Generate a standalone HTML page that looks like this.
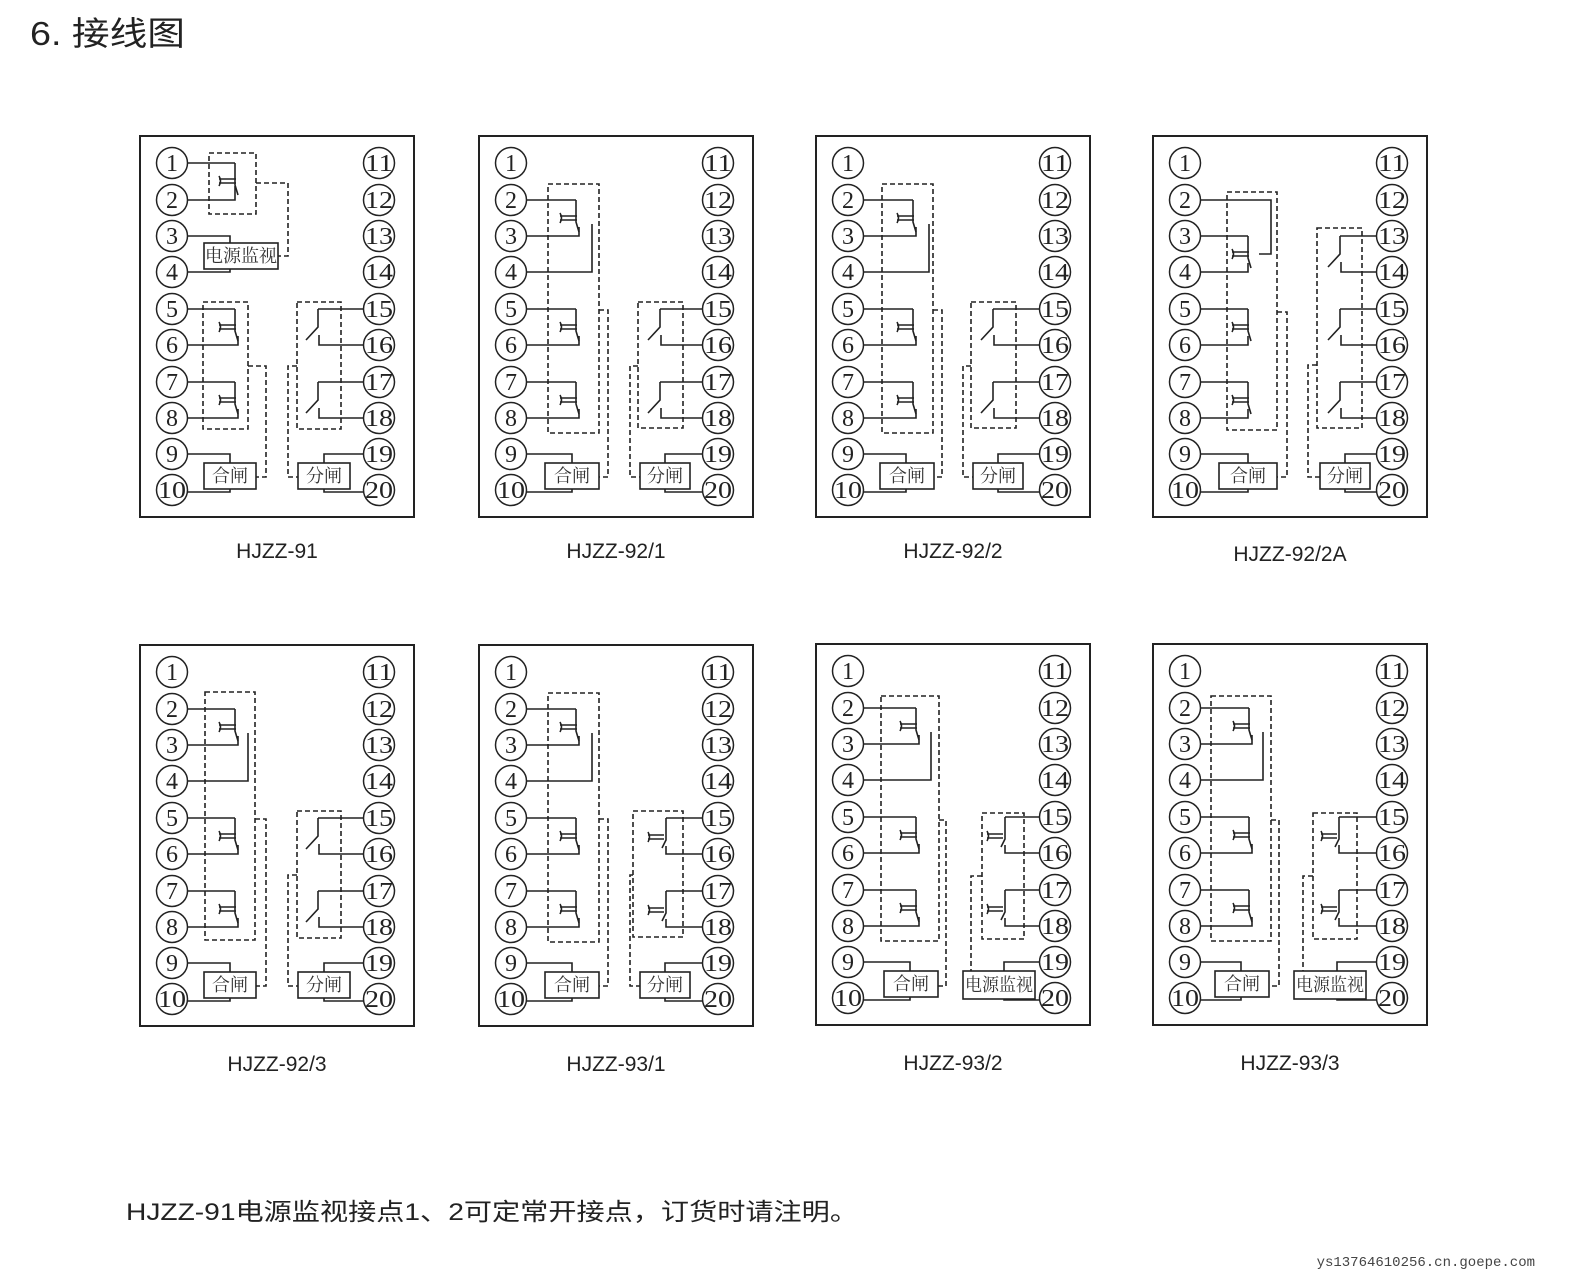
<!DOCTYPE html>
<html><head><meta charset="utf-8"><style>
html,body{margin:0;padding:0;background:#fff;}
svg{display:block}
.f{fill:none;stroke:#222;stroke-width:2}
.c{fill:#fff;stroke:#222;stroke-width:1.5}
.n{font-family:"Liberation Serif","Noto Serif CJK SC",serif;font-size:24px;fill:#222;text-anchor:middle}
.s{fill:none;stroke:#222;stroke-width:1.6}
.d{fill:none;stroke:#222;stroke-width:1.6;stroke-dasharray:5,3}
.b{fill:#fff;stroke:#222;stroke-width:1.6}
.t{font-family:"Liberation Serif","Noto Serif CJK SC",serif;font-size:18px;fill:#333;text-anchor:middle}
.lab{font-family:"Liberation Sans",sans-serif;font-size:21px;fill:#222;text-anchor:middle}
</style></head><body>
<svg width="1579" height="1287" viewBox="0 0 1579 1287" xmlns="http://www.w3.org/2000/svg">
<defs>
<g id="nc"><path class="s" d="M0,0 V22 L3,32"/><path class="s" d="M-16,16 H1 M-16,20 H1 M-16,13 Q-13,18 -16,23"/></g>
<g id="no"><path class="s" d="M0,0 V18 L-12,31"/></g>
<g id="ncr"><path class="s" d="M0,0 V22 L-4,30"/><path class="s" d="M-18,17 H-2 M-18,21 H-2 M-18,14 Q-15,19 -18,24"/></g>
</defs>
<text x="30" y="45" font-family="Liberation Sans,'Noto Sans CJK SC',sans-serif" font-size="33" fill="#222" textLength="155" lengthAdjust="spacingAndGlyphs">6. 接线图</text>

<!-- ===== Panel 1 HJZZ-91 ===== -->
<g transform="translate(140,136)">
<rect class="f" x="0" y="0" width="274" height="381"/>
<rect class="d" x="69" y="17" width="47" height="61"/>
<path class="s" d="M47,27 H95 M47,64 H95 V50"/><use href="#nc" x="95" y="27"/>
<path class="d" d="M116,47 H148 V120 H138"/>
<path class="s" d="M47,100 H90 V107 M47,136 H90 V133"/>
<rect class="b" x="64" y="107" width="74" height="26"/><text class="t" x="101" y="126">电源监视</text>
<rect class="d" x="63" y="166" width="45" height="127"/>
<path class="s" d="M47,173 H95 M47,209 H98 V200 M47,246 H95 M47,282 H98 V273"/>
<use href="#nc" x="95" y="173"/><use href="#nc" x="95" y="246"/>
<path class="d" d="M108,230 H126 V341 H116"/>
<rect class="d" x="157" y="166" width="44" height="127"/>
<path class="s" d="M224,173 H178 M224,209 H179 V199 M224,246 H178 M224,282 H179 V272"/>
<use href="#no" x="178" y="173"/><use href="#no" x="178" y="246"/>
<path class="d" d="M157,230 H148 V341 H158"/>
<path class="s" d="M47,318 H90 V327 M47,356 H90 V353 M224,318 H184 V327 M224,356 H184 V353"/>
<rect class="b" x="64" y="327" width="52" height="26"/><text class="t" x="90" y="346">合闸</text>
<rect class="b" x="158" y="327" width="52" height="26"/><text class="t" x="184" y="346">分闸</text>
<g id="circ">
<circle class="c" cx="32" cy="27" r="15.5"/><circle class="c" cx="32" cy="64" r="15.5"/><circle class="c" cx="32" cy="100" r="15.5"/><circle class="c" cx="32" cy="136" r="15.5"/><circle class="c" cx="32" cy="173" r="15.5"/><circle class="c" cx="32" cy="209" r="15.5"/><circle class="c" cx="32" cy="246" r="15.5"/><circle class="c" cx="32" cy="282" r="15.5"/><circle class="c" cx="32" cy="318" r="15.5"/><circle class="c" cx="32" cy="354" r="15.5"/>
<circle class="c" cx="239" cy="27" r="15.5"/><circle class="c" cx="239" cy="64" r="15.5"/><circle class="c" cx="239" cy="100" r="15.5"/><circle class="c" cx="239" cy="136" r="15.5"/><circle class="c" cx="239" cy="173" r="15.5"/><circle class="c" cx="239" cy="209" r="15.5"/><circle class="c" cx="239" cy="246" r="15.5"/><circle class="c" cx="239" cy="282" r="15.5"/><circle class="c" cx="239" cy="318" r="15.5"/><circle class="c" cx="239" cy="354" r="15.5"/>
</g>
<g id="nums">
<text class="n" x="32" y="35">1</text><text class="n" x="32" y="72">2</text><text class="n" x="32" y="108">3</text><text class="n" x="32" y="144">4</text><text class="n" x="32" y="181">5</text><text class="n" x="32" y="217">6</text><text class="n" x="32" y="254">7</text><text class="n" x="32" y="290">8</text><text class="n" x="32" y="326">9</text><text class="n" x="32" y="362" textLength="28" lengthAdjust="spacingAndGlyphs">10</text>
<text class="n" x="239" y="35" textLength="28" lengthAdjust="spacingAndGlyphs">11</text><text class="n" x="239" y="72" textLength="28" lengthAdjust="spacingAndGlyphs">12</text><text class="n" x="239" y="108" textLength="28" lengthAdjust="spacingAndGlyphs">13</text><text class="n" x="239" y="144" textLength="28" lengthAdjust="spacingAndGlyphs">14</text><text class="n" x="239" y="181" textLength="28" lengthAdjust="spacingAndGlyphs">15</text><text class="n" x="239" y="217" textLength="28" lengthAdjust="spacingAndGlyphs">16</text><text class="n" x="239" y="254" textLength="28" lengthAdjust="spacingAndGlyphs">17</text><text class="n" x="239" y="290" textLength="28" lengthAdjust="spacingAndGlyphs">18</text><text class="n" x="239" y="326" textLength="28" lengthAdjust="spacingAndGlyphs">19</text><text class="n" x="239" y="362" textLength="28" lengthAdjust="spacingAndGlyphs">20</text>
</g>
</g>

<!-- ===== Panel 92/1 ===== -->
<g transform="translate(479,136)">
<rect class="f" x="0" y="0" width="274" height="381"/>
<rect class="d" x="69" y="48" width="51" height="249"/>
<path class="s" d="M47,64 H97 M47,100 H100 V91 M47,136 H113 V88"/><use href="#nc" x="97" y="64"/>
<path class="s" d="M47,173 H97 M47,209 H100 V200 M47,246 H97 M47,282 H100 V273"/>
<use href="#nc" x="97" y="173"/><use href="#nc" x="97" y="246"/>
<path class="d" d="M120,174 H129 V341 H120"/>
<rect class="d" x="159" y="166" width="45" height="126"/>
<path class="s" d="M224,173 H181 M224,209 H182 V199 M224,246 H181 M224,282 H182 V272"/>
<use href="#no" x="181" y="173"/><use href="#no" x="181" y="246"/>
<path class="d" d="M159,230 H151 V341 H161"/>
<path class="s" d="M47,318 H93 V327 M47,356 H93 V353 M224,318 H186 V327 M224,356 H186 V353"/>
<rect class="b" x="66" y="327" width="54" height="26"/><text class="t" x="93" y="346">合闸</text>
<rect class="b" x="161" y="327" width="50" height="26"/><text class="t" x="186" y="346">分闸</text>
<use href="#circ"/>
<text class="n" x="32" y="35">1</text><text class="n" x="32" y="72">2</text><text class="n" x="32" y="108">3</text><text class="n" x="32" y="144">4</text><text class="n" x="32" y="181">5</text><text class="n" x="32" y="217">6</text><text class="n" x="32" y="254">7</text><text class="n" x="32" y="290">8</text><text class="n" x="32" y="326">9</text><text class="n" x="32" y="362" textLength="28" lengthAdjust="spacingAndGlyphs">10</text>
<text class="n" x="239" y="35" textLength="28" lengthAdjust="spacingAndGlyphs">11</text><text class="n" x="239" y="72" textLength="28" lengthAdjust="spacingAndGlyphs">12</text><text class="n" x="239" y="108" textLength="28" lengthAdjust="spacingAndGlyphs">13</text><text class="n" x="239" y="144" textLength="28" lengthAdjust="spacingAndGlyphs">14</text><text class="n" x="239" y="181" textLength="28" lengthAdjust="spacingAndGlyphs">15</text><text class="n" x="239" y="217" textLength="28" lengthAdjust="spacingAndGlyphs">16</text><text class="n" x="239" y="254" textLength="28" lengthAdjust="spacingAndGlyphs">17</text><text class="n" x="239" y="290" textLength="28" lengthAdjust="spacingAndGlyphs">18</text><text class="n" x="239" y="326" textLength="28" lengthAdjust="spacingAndGlyphs">19</text><text class="n" x="239" y="362" textLength="28" lengthAdjust="spacingAndGlyphs">20</text>
</g>

<!-- ===== Panel 92/2 ===== -->
<g transform="translate(816,136)">
<rect class="f" x="0" y="0" width="274" height="381"/>
<rect class="d" x="66" y="48" width="51" height="249"/>
<path class="s" d="M47,64 H97 M47,100 H100 V91 M47,136 H113 V88"/><use href="#nc" x="97" y="64"/>
<path class="s" d="M47,173 H97 M47,209 H100 V200 M47,246 H97 M47,282 H100 V273"/>
<use href="#nc" x="97" y="173"/><use href="#nc" x="97" y="246"/>
<path class="d" d="M117,174 H126 V341 H118"/>
<rect class="d" x="155" y="166" width="45" height="126"/>
<path class="s" d="M224,173 H177 M224,209 H178 V199 M224,246 H177 M224,282 H178 V272"/>
<use href="#no" x="177" y="173"/><use href="#no" x="177" y="246"/>
<path class="d" d="M155,230 H147 V341 H157"/>
<path class="s" d="M47,318 H90 V327 M47,356 H90 V353 M224,318 H182 V327 M224,356 H182 V353"/>
<rect class="b" x="64" y="327" width="54" height="26"/><text class="t" x="91" y="346">合闸</text>
<rect class="b" x="157" y="327" width="50" height="26"/><text class="t" x="182" y="346">分闸</text>
<use href="#circ"/>
<text class="n" x="32" y="35">1</text><text class="n" x="32" y="72">2</text><text class="n" x="32" y="108">3</text><text class="n" x="32" y="144">4</text><text class="n" x="32" y="181">5</text><text class="n" x="32" y="217">6</text><text class="n" x="32" y="254">7</text><text class="n" x="32" y="290">8</text><text class="n" x="32" y="326">9</text><text class="n" x="32" y="362" textLength="28" lengthAdjust="spacingAndGlyphs">10</text>
<text class="n" x="239" y="35" textLength="28" lengthAdjust="spacingAndGlyphs">11</text><text class="n" x="239" y="72" textLength="28" lengthAdjust="spacingAndGlyphs">12</text><text class="n" x="239" y="108" textLength="28" lengthAdjust="spacingAndGlyphs">13</text><text class="n" x="239" y="144" textLength="28" lengthAdjust="spacingAndGlyphs">14</text><text class="n" x="239" y="181" textLength="28" lengthAdjust="spacingAndGlyphs">15</text><text class="n" x="239" y="217" textLength="28" lengthAdjust="spacingAndGlyphs">16</text><text class="n" x="239" y="254" textLength="28" lengthAdjust="spacingAndGlyphs">17</text><text class="n" x="239" y="290" textLength="28" lengthAdjust="spacingAndGlyphs">18</text><text class="n" x="239" y="326" textLength="28" lengthAdjust="spacingAndGlyphs">19</text><text class="n" x="239" y="362" textLength="28" lengthAdjust="spacingAndGlyphs">20</text>
</g>

<!-- ===== Panel 92/2A ===== -->
<g transform="translate(1153,136)">
<rect class="f" x="0" y="0" width="274" height="381"/>
<rect class="d" x="74" y="56" width="50" height="238"/>
<path class="s" d="M47,64 H118 V118 H106"/>
<path class="s" d="M47,100 H95 M47,136 H95 V127 M47,173 H95 M47,209 H95 V200 M47,246 H95 M47,282 H95 V273"/>
<use href="#nc" x="95" y="100"/><use href="#nc" x="95" y="173"/><use href="#nc" x="95" y="246"/>
<path class="d" d="M124,176 H134 V341 H124"/>
<rect class="d" x="164" y="92" width="45" height="200"/>
<path class="s" d="M224,100 H187 M224,136 H188 V126 M224,173 H187 M224,209 H188 V199 M224,246 H187 M224,282 H188 V272"/>
<use href="#no" x="187" y="100"/><use href="#no" x="187" y="173"/><use href="#no" x="187" y="246"/>
<path class="d" d="M164,229 H155 V341 H167"/>
<path class="s" d="M47,318 H95 V327 M47,356 H95 V353 M224,318 H192 V327 M224,356 H192 V353"/>
<rect class="b" x="66" y="327" width="58" height="26"/><text class="t" x="95" y="346">合闸</text>
<rect class="b" x="167" y="327" width="50" height="26"/><text class="t" x="192" y="346">分闸</text>
<use href="#circ"/>
<text class="n" x="32" y="35">1</text><text class="n" x="32" y="72">2</text><text class="n" x="32" y="108">3</text><text class="n" x="32" y="144">4</text><text class="n" x="32" y="181">5</text><text class="n" x="32" y="217">6</text><text class="n" x="32" y="254">7</text><text class="n" x="32" y="290">8</text><text class="n" x="32" y="326">9</text><text class="n" x="32" y="362" textLength="28" lengthAdjust="spacingAndGlyphs">10</text>
<text class="n" x="239" y="35" textLength="28" lengthAdjust="spacingAndGlyphs">11</text><text class="n" x="239" y="72" textLength="28" lengthAdjust="spacingAndGlyphs">12</text><text class="n" x="239" y="108" textLength="28" lengthAdjust="spacingAndGlyphs">13</text><text class="n" x="239" y="144" textLength="28" lengthAdjust="spacingAndGlyphs">14</text><text class="n" x="239" y="181" textLength="28" lengthAdjust="spacingAndGlyphs">15</text><text class="n" x="239" y="217" textLength="28" lengthAdjust="spacingAndGlyphs">16</text><text class="n" x="239" y="254" textLength="28" lengthAdjust="spacingAndGlyphs">17</text><text class="n" x="239" y="290" textLength="28" lengthAdjust="spacingAndGlyphs">18</text><text class="n" x="239" y="326" textLength="28" lengthAdjust="spacingAndGlyphs">19</text><text class="n" x="239" y="362" textLength="28" lengthAdjust="spacingAndGlyphs">20</text>
</g>

<!-- ===== Panel 92/3 ===== -->
<g transform="translate(140,645)">
<rect class="f" x="0" y="0" width="274" height="381"/>
<rect class="d" x="65" y="47" width="50" height="248"/>
<path class="s" d="M47,64 H95 M47,100 H98 V91 M47,136 H108 V88"/><use href="#nc" x="95" y="64"/>
<path class="s" d="M47,173 H95 M47,209 H98 V200 M47,246 H95 M47,282 H98 V273"/>
<use href="#nc" x="95" y="173"/><use href="#nc" x="95" y="246"/>
<path class="d" d="M115,174 H126 V341 H116"/>
<rect class="d" x="157" y="166" width="44" height="127"/>
<path class="s" d="M224,173 H178 M224,209 H179 V199 M224,246 H178 M224,282 H179 V272"/>
<use href="#no" x="178" y="173"/><use href="#no" x="178" y="246"/>
<path class="d" d="M157,230 H148 V341 H158"/>
<path class="s" d="M47,318 H90 V327 M47,356 H90 V353 M224,318 H184 V327 M224,356 H184 V353"/>
<rect class="b" x="64" y="327" width="52" height="26"/><text class="t" x="90" y="346">合闸</text>
<rect class="b" x="158" y="327" width="52" height="26"/><text class="t" x="184" y="346">分闸</text>
<use href="#circ"/>
<text class="n" x="32" y="35">1</text><text class="n" x="32" y="72">2</text><text class="n" x="32" y="108">3</text><text class="n" x="32" y="144">4</text><text class="n" x="32" y="181">5</text><text class="n" x="32" y="217">6</text><text class="n" x="32" y="254">7</text><text class="n" x="32" y="290">8</text><text class="n" x="32" y="326">9</text><text class="n" x="32" y="362" textLength="28" lengthAdjust="spacingAndGlyphs">10</text>
<text class="n" x="239" y="35" textLength="28" lengthAdjust="spacingAndGlyphs">11</text><text class="n" x="239" y="72" textLength="28" lengthAdjust="spacingAndGlyphs">12</text><text class="n" x="239" y="108" textLength="28" lengthAdjust="spacingAndGlyphs">13</text><text class="n" x="239" y="144" textLength="28" lengthAdjust="spacingAndGlyphs">14</text><text class="n" x="239" y="181" textLength="28" lengthAdjust="spacingAndGlyphs">15</text><text class="n" x="239" y="217" textLength="28" lengthAdjust="spacingAndGlyphs">16</text><text class="n" x="239" y="254" textLength="28" lengthAdjust="spacingAndGlyphs">17</text><text class="n" x="239" y="290" textLength="28" lengthAdjust="spacingAndGlyphs">18</text><text class="n" x="239" y="326" textLength="28" lengthAdjust="spacingAndGlyphs">19</text><text class="n" x="239" y="362" textLength="28" lengthAdjust="spacingAndGlyphs">20</text>
</g>

<!-- ===== Panel 93/1 ===== -->
<g transform="translate(479,645)">
<rect class="f" x="0" y="0" width="274" height="381"/>
<rect class="d" x="69" y="48" width="51" height="249"/>
<path class="s" d="M47,64 H97 M47,100 H100 V91 M47,136 H113 V88"/><use href="#nc" x="97" y="64"/>
<path class="s" d="M47,173 H97 M47,209 H100 V200 M47,246 H97 M47,282 H100 V273"/>
<use href="#nc" x="97" y="173"/><use href="#nc" x="97" y="246"/>
<path class="d" d="M120,174 H129 V341 H120"/>
<rect class="d" x="154" y="166" width="50" height="126"/>
<path class="s" d="M224,173 H187 M224,209 H187 V201 M224,246 H187 M224,282 H187 V274"/>
<use href="#ncr" x="187" y="173"/><use href="#ncr" x="187" y="246"/>
<path class="d" d="M154,230 H151 V341 H161"/>
<path class="s" d="M47,318 H93 V327 M47,356 H93 V353 M224,318 H186 V327 M224,356 H186 V353"/>
<rect class="b" x="66" y="327" width="54" height="26"/><text class="t" x="93" y="346">合闸</text>
<rect class="b" x="161" y="327" width="50" height="26"/><text class="t" x="186" y="346">分闸</text>
<use href="#circ"/>
<text class="n" x="32" y="35">1</text><text class="n" x="32" y="72">2</text><text class="n" x="32" y="108">3</text><text class="n" x="32" y="144">4</text><text class="n" x="32" y="181">5</text><text class="n" x="32" y="217">6</text><text class="n" x="32" y="254">7</text><text class="n" x="32" y="290">8</text><text class="n" x="32" y="326">9</text><text class="n" x="32" y="362" textLength="28" lengthAdjust="spacingAndGlyphs">10</text>
<text class="n" x="239" y="35" textLength="28" lengthAdjust="spacingAndGlyphs">11</text><text class="n" x="239" y="72" textLength="28" lengthAdjust="spacingAndGlyphs">12</text><text class="n" x="239" y="108" textLength="28" lengthAdjust="spacingAndGlyphs">13</text><text class="n" x="239" y="144" textLength="28" lengthAdjust="spacingAndGlyphs">14</text><text class="n" x="239" y="181" textLength="28" lengthAdjust="spacingAndGlyphs">15</text><text class="n" x="239" y="217" textLength="28" lengthAdjust="spacingAndGlyphs">16</text><text class="n" x="239" y="254" textLength="28" lengthAdjust="spacingAndGlyphs">17</text><text class="n" x="239" y="290" textLength="28" lengthAdjust="spacingAndGlyphs">18</text><text class="n" x="239" y="326" textLength="28" lengthAdjust="spacingAndGlyphs">19</text><text class="n" x="239" y="362" textLength="28" lengthAdjust="spacingAndGlyphs">20</text>
</g>

<!-- ===== Panel 93/2 ===== -->
<g transform="translate(816,644)">
<rect class="f" x="0" y="0" width="274" height="381"/>
<rect class="d" x="65" y="52" width="58" height="245"/>
<path class="s" d="M47,64 H100 M47,100 H103 V91 M47,136 H115 V88"/><use href="#nc" x="100" y="64"/>
<path class="s" d="M47,173 H100 M47,209 H103 V200 M47,246 H100 M47,282 H103 V273"/>
<use href="#nc" x="100" y="173"/><use href="#nc" x="100" y="246"/>
<path class="d" d="M123,176 H130 V342 H122"/>
<rect class="d" x="166" y="169" width="42" height="126"/>
<path class="s" d="M224,173 H189 M224,209 H189 V201 M224,246 H189 M224,282 H189 V274"/>
<use href="#ncr" x="189" y="173"/><use href="#ncr" x="189" y="246"/>
<path class="d" d="M166,232 H155 V327"/>
<path class="s" d="M47,318 H94 V327 M47,356 H94 V353 M224,318 H188 V327 M224,356 H188 V355"/>
<rect class="b" x="68" y="327" width="54" height="26"/><text class="t" x="95" y="346">合闸</text>
<rect class="b" x="147" y="327" width="72" height="28"/><text class="t" x="183" y="347" textLength="68" lengthAdjust="spacingAndGlyphs">电源监视</text>
<use href="#circ"/>
<text class="n" x="32" y="35">1</text><text class="n" x="32" y="72">2</text><text class="n" x="32" y="108">3</text><text class="n" x="32" y="144">4</text><text class="n" x="32" y="181">5</text><text class="n" x="32" y="217">6</text><text class="n" x="32" y="254">7</text><text class="n" x="32" y="290">8</text><text class="n" x="32" y="326">9</text><text class="n" x="32" y="362" textLength="28" lengthAdjust="spacingAndGlyphs">10</text>
<text class="n" x="239" y="35" textLength="28" lengthAdjust="spacingAndGlyphs">11</text><text class="n" x="239" y="72" textLength="28" lengthAdjust="spacingAndGlyphs">12</text><text class="n" x="239" y="108" textLength="28" lengthAdjust="spacingAndGlyphs">13</text><text class="n" x="239" y="144" textLength="28" lengthAdjust="spacingAndGlyphs">14</text><text class="n" x="239" y="181" textLength="28" lengthAdjust="spacingAndGlyphs">15</text><text class="n" x="239" y="217" textLength="28" lengthAdjust="spacingAndGlyphs">16</text><text class="n" x="239" y="254" textLength="28" lengthAdjust="spacingAndGlyphs">17</text><text class="n" x="239" y="290" textLength="28" lengthAdjust="spacingAndGlyphs">18</text><text class="n" x="239" y="326" textLength="28" lengthAdjust="spacingAndGlyphs">19</text><text class="n" x="239" y="362" textLength="28" lengthAdjust="spacingAndGlyphs">20</text>
</g>

<!-- ===== Panel 93/3 ===== -->
<g transform="translate(1153,644)">
<rect class="f" x="0" y="0" width="274" height="381"/>
<rect class="d" x="58" y="52" width="60" height="245"/>
<path class="s" d="M47,64 H96 M47,100 H99 V91 M47,136 H110 V88"/><use href="#nc" x="96" y="64"/>
<path class="s" d="M47,173 H96 M47,209 H99 V200 M47,246 H96 M47,282 H99 V273"/>
<use href="#nc" x="96" y="173"/><use href="#nc" x="96" y="246"/>
<path class="d" d="M118,176 H126 V342 H117"/>
<rect class="d" x="160" y="169" width="44" height="126"/>
<path class="s" d="M224,173 H186 M224,209 H186 V201 M224,246 H186 M224,282 H186 V274"/>
<use href="#ncr" x="186" y="173"/><use href="#ncr" x="186" y="246"/>
<path class="d" d="M160,232 H150 V327"/>
<path class="s" d="M47,318 H88 V327 M47,356 H88 V353 M224,318 H184 V327 M224,356 H184 V355"/>
<rect class="b" x="62" y="327" width="54" height="26"/><text class="t" x="89" y="346">合闸</text>
<rect class="b" x="141" y="327" width="72" height="28"/><text class="t" x="177" y="347" textLength="68" lengthAdjust="spacingAndGlyphs">电源监视</text>
<use href="#circ"/>
<text class="n" x="32" y="35">1</text><text class="n" x="32" y="72">2</text><text class="n" x="32" y="108">3</text><text class="n" x="32" y="144">4</text><text class="n" x="32" y="181">5</text><text class="n" x="32" y="217">6</text><text class="n" x="32" y="254">7</text><text class="n" x="32" y="290">8</text><text class="n" x="32" y="326">9</text><text class="n" x="32" y="362" textLength="28" lengthAdjust="spacingAndGlyphs">10</text>
<text class="n" x="239" y="35" textLength="28" lengthAdjust="spacingAndGlyphs">11</text><text class="n" x="239" y="72" textLength="28" lengthAdjust="spacingAndGlyphs">12</text><text class="n" x="239" y="108" textLength="28" lengthAdjust="spacingAndGlyphs">13</text><text class="n" x="239" y="144" textLength="28" lengthAdjust="spacingAndGlyphs">14</text><text class="n" x="239" y="181" textLength="28" lengthAdjust="spacingAndGlyphs">15</text><text class="n" x="239" y="217" textLength="28" lengthAdjust="spacingAndGlyphs">16</text><text class="n" x="239" y="254" textLength="28" lengthAdjust="spacingAndGlyphs">17</text><text class="n" x="239" y="290" textLength="28" lengthAdjust="spacingAndGlyphs">18</text><text class="n" x="239" y="326" textLength="28" lengthAdjust="spacingAndGlyphs">19</text><text class="n" x="239" y="362" textLength="28" lengthAdjust="spacingAndGlyphs">20</text>
</g>

<text class="lab" x="277" y="558">HJZZ-91</text>
<text class="lab" x="616" y="558">HJZZ-92/1</text>
<text class="lab" x="953" y="558">HJZZ-92/2</text>
<text class="lab" x="1290" y="561">HJZZ-92/2A</text>
<text class="lab" x="277" y="1071">HJZZ-92/3</text>
<text class="lab" x="616" y="1071">HJZZ-93/1</text>
<text class="lab" x="953" y="1070">HJZZ-93/2</text>
<text class="lab" x="1290" y="1070">HJZZ-93/3</text>

<text x="126" y="1220" font-family="Liberation Sans,'Noto Sans CJK SC',sans-serif" font-size="24" fill="#222" textLength="732" lengthAdjust="spacingAndGlyphs">HJZZ-91电源监视接点1、2可定常开接点，订货时请注明。</text>
<text x="1535" y="1266" font-family="Liberation Mono,monospace" font-size="14" fill="#444" text-anchor="end">ys13764610256.cn.goepe.com</text>
</svg>
</body></html>
